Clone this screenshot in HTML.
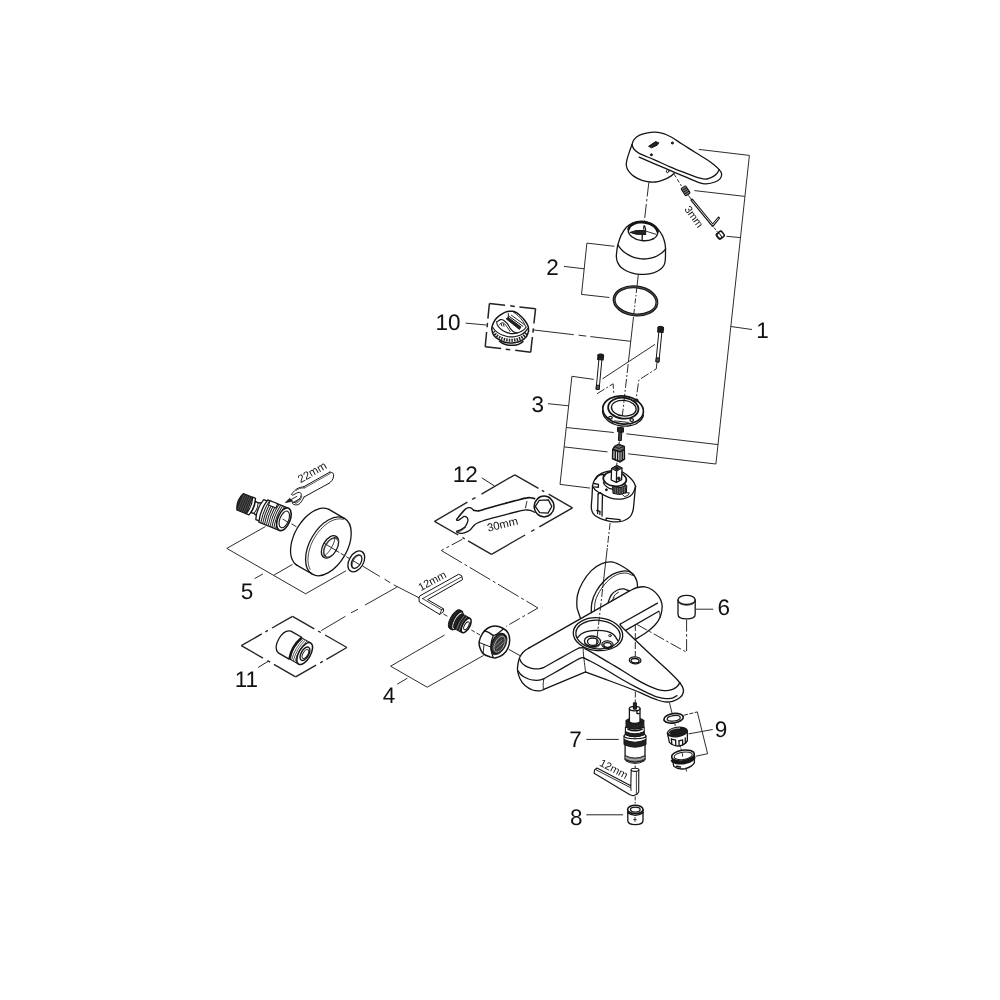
<!DOCTYPE html>
<html lang="en"><head><meta charset="utf-8"><title>Exploded parts diagram</title>
<style>
html,body{margin:0;padding:0;background:#fff}
body{width:1000px;height:1000px;overflow:hidden}
svg{display:block;filter:grayscale(1)}
.o{fill:none;stroke:#151515;stroke-width:1.3;stroke-linecap:round;stroke-linejoin:round}
.w{fill:#fff;stroke:#151515;stroke-width:1.3;stroke-linecap:round;stroke-linejoin:round}
.t{fill:none;stroke:#222;stroke-width:.95;stroke-linecap:butt}
.d{fill:none;stroke:#222;stroke-width:.95;stroke-dasharray:14 2.5 2.5 2.5}
.k{fill:#222;stroke:#151515;stroke-width:1;stroke-linejoin:round}
.g{fill:#777;stroke:#151515;stroke-width:1;stroke-linejoin:round}
.h{fill:none;stroke:#151515;stroke-width:2.3;stroke-linecap:round}
.n{fill:none;stroke:#333;stroke-width:.6}
text{font-family:"Liberation Sans",Arial,sans-serif;fill:#111;text-rendering:geometricPrecision}
</style></head><body>
<svg width="1000" height="1000" viewBox="0 0 1000 1000">
<rect width="1000" height="1000" fill="#fff"/>
<!-- handle -->
<path class="o" d="M632 144.8C632.3 143.9 632.7 141.2 634 139.6C635.3 138 637.3 136.3 639.6 135.2C641.9 134.1 644.9 133.3 647.6 132.8C650.3 132.3 652.9 132.1 655.6 132.2C658.3 132.3 660.9 132.8 663.6 133.6C666.3 134.4 668.5 135.5 671.6 137.2C674.7 138.9 678.1 141.5 682 144C685.9 146.5 690.8 149.5 695 152.2C699.2 154.9 704.2 157.8 707.5 160C710.8 162.2 712.5 163.6 714.5 165.2C716.5 166.8 718 168.2 719.2 169.6C720.4 171 721.4 172.1 721.6 173.6C721.8 175.1 721.5 177 720.4 178.4C719.3 179.8 717.4 181.1 715 182C712.6 182.9 708.5 183.7 706 183.8C703.5 184 703.3 184 700 182.9C696.7 181.8 691 179.3 686 177.2C681 175.1 675.3 172.7 670 170.4C664.7 168.1 659.1 165.8 654 163.6C648.9 161.4 641.7 158.3 639.2 157.2"/>
<path class="o" d="M632 144.8C632.3 145.5 632.7 147.7 634 149.2C635.3 150.7 636.3 151.9 639.6 153.6C642.9 155.3 648.9 157.4 654 159.6C659.1 161.8 664.7 164.5 670 166.8C675.3 169.1 681 171.3 686 173.2C691 175.1 696.5 177.2 700 178.2C703.5 179.2 705 179.2 707 179C709 178.8 710.4 178 712 177.2C713.6 176.4 715.3 175.3 716.5 174C717.7 172.7 718.8 170.3 719.2 169.6"/>
<path class="o" d="M632 144.8C631.5 146.1 630.1 149.8 629.2 152.4C628.3 155 627.3 158.1 626.8 160.4C626.3 162.7 626.1 164.3 626.4 166C626.7 167.7 627.1 169.1 628.4 170.8C629.7 172.5 631.7 174.8 634 176.4C636.3 178 639.3 179.5 642 180.4C644.7 181.3 647.3 181.8 650 182C652.7 182.2 655.3 182.1 658 181.6C660.7 181.1 663.7 179.8 666 178.8C668.3 177.8 670.3 176.5 671.6 175.6C672.9 174.7 673.6 173.6 674 173.2"/>
<path class="k" d="M648.6 146.3L655.6 141.6L658.8 142.8L657.2 145.2L651.6 147.8Z"/>
<ellipse class="k" cx="672.4" cy="143" rx="1.1" ry="1"/>
<ellipse class="k" cx="651.4" cy="154.8" rx="1.1" ry="1"/>
<ellipse class="o" cx="667.6" cy="171.2" rx="1.2" ry="1.7" transform="rotate(20 667.6 171.2)" style="stroke-width:.8"/>
<path class="t" d="M674 174L681.5 186" stroke-dasharray="4 2"/>
<g transform="rotate(57 685.6 190.8)"><rect class="g" x="681.2" y="188" width="8.8" height="5.6" rx="1"/><path class="n" d="M683.5 188v5.6M685.6 188v5.6M687.7 188v5.6" style="stroke:#111;stroke-width:.9"/></g>
<path class="t" d="M688.3 195.3L691.5 199.6"/>
<path class="h" d="M691.9 200L712.7 225.4L718.6 218" style="stroke-width:2.8;stroke-linejoin:round"/>
<path class="h" d="M692.4 200.6L712.7 225.1L718.3 218.3" style="stroke:#ddd;stroke-width:1;stroke-linejoin:round"/>
<text x="691" y="218.8" font-size="10.7" text-anchor="middle" transform="rotate(54 691 218.8)">3mm</text>
<path class="t" d="M714 227.5L717.5 232" stroke-dasharray="3 1.5"/>
<g transform="rotate(-38 720.2 235.2)"><rect class="w" x="716.9" y="232" width="6.8" height="6.4" rx="1.8" style="stroke-width:1.5"/><ellipse class="o" cx="719" cy="235.2" rx="1.6" ry="2.9" style="stroke-width:1"/></g>
<path class="t" d="M698.8 149.4L749.4 155.4L715.9 464"/>
<path class="t" d="M694.4 190.6L744.9 196.4"/>
<path class="t" d="M726.5 236.3L740.5 237.6"/>
<path class="t" d="M730.8 326.5L752 329.5"/>
<text x="762.6" y="338.4" font-size="22.5" text-anchor="middle">1</text>
<path class="d" d="M648.8 182.6L643.4 229.5"/>
<!-- cap -->
<path class="o" d="M616.7 252C616.4 254.2 616.2 255.5 616.4 257.2C616.5 258.9 616.8 260.7 617.6 262.4C618.4 264.1 619.5 266.1 621.2 267.6C622.9 269.1 625.3 270.5 627.7 271.5C630.1 272.5 632.7 273.3 635.5 273.8C638.3 274.3 641.6 274.6 644.6 274.4C647.6 274.2 651.1 273.6 653.7 272.8C656.3 272 658.5 270.9 660.2 269.6C661.9 268.3 663.2 266.6 664.1 265C665 263.4 665.1 262 665.3 259.8C665.5 257.6 665.5 254.6 665.5 252C665.5 249.4 665.6 246.8 665.1 244.2C664.6 241.6 664 239 662.8 236.4C661.5 233.8 659.5 230.8 657.6 228.6C655.7 226.4 653.7 224.6 651.1 223.4C648.5 222.2 645 221.3 642 221.2C639 221.1 635.5 221.8 632.9 222.8C630.3 223.8 628.3 225.2 626.4 227.3C624.5 229.4 622.6 232.3 621.2 235.1C619.8 237.9 618.8 241.4 618 244.2C617.2 247 617 249.8 616.7 252Z"/>
<path class="o" d="M618 244.9C618.4 245.5 619.6 247.4 620.6 248.6C621.6 249.8 622.8 250.9 624 251.9C625.2 252.9 626.6 253.8 628 254.6C629.4 255.4 630.9 256.2 632.4 256.8C633.9 257.4 635.5 257.9 637 258.2C638.5 258.5 640 258.8 641.5 258.9C643 259 644.5 259 646 258.9C647.5 258.8 649.1 258.5 650.6 258.2C652.1 257.9 653.6 257.4 655 256.8C656.4 256.2 657.7 255.5 659 254.7C660.3 253.9 661.5 253.1 662.6 252.2C663.7 251.3 665.2 249.6 665.7 249.1"/>
<ellipse class="o" cx="643" cy="231.3" rx="14.8" ry="9.4" transform="rotate(6.5 643 231.3)" style="stroke-width:1.4"/>
<path class="o" d="M628.6 229.1A14.6 9.2 6.5 0 1 629.2 227.6A14.6 9.2 6.5 0 1 630.2 226.2A14.6 9.2 6.5 0 1 631.6 225A14.6 9.2 6.5 0 1 633.3 224A14.6 9.2 6.5 0 1 635.2 223.2A14.6 9.2 6.5 0 1 637.4 222.6A14.6 9.2 6.5 0 1 639.7 222.3A14.6 9.2 6.5 0 1 642.2 222.2A14.6 9.2 6.5 0 1 644.6 222.4A14.6 9.2 6.5 0 1 647 222.9A14.6 9.2 6.5 0 1 649.3 223.6A14.6 9.2 6.5 0 1 651.5 224.6A14.6 9.2 6.5 0 1 653.3 225.7A14.6 9.2 6.5 0 1 654.9 227A14.6 9.2 6.5 0 1 656.1 228.5A14.6 9.2 6.5 0 1 657 230A14.6 9.2 6.5 0 1 657.5 231.5" style="stroke-width:2.6"/>
<path class="k" d="M630 232.4L636 230.6L645.4 230.4L645.8 234.6L636 234.2Z"/>
<path class="o" d="M642.3 235L642.1 240.4"/>
<path class="t" d="M645.4 231L656.4 234.4"/>
<path class="o" d="M644.6 226L645.6 230"/>
<path class="t" d="M651.4 239.6L652.4 238.6L654.2 239"/>
<path class="t" d="M614.4 246.3L586.9 243.1L581.5 294.4L609.4 297.5"/>
<path class="t" d="M564 266.4L584.2 268.8"/>
<text x="552.6" y="274.6" font-size="22.5" text-anchor="middle">2</text>
<path class="t" d="M638.3 274.6L637 286.5"/>
<path class="t" d="M636.8 288L633.6 316" stroke-dasharray="5 2 1.5 2"/>
<path class="t" d="M633.5 317L628.4 362"/>
<ellipse class="o" cx="635.5" cy="300.9" rx="21.5" ry="14" transform="rotate(6.5 635.5 300.9)" style="stroke-width:3"/>
<ellipse class="o" cx="635.5" cy="300.9" rx="21.5" ry="14" transform="rotate(6.5 635.5 300.9)" style="stroke:#888;stroke-width:.5"/>
<!-- part 10 -->
<path class="t" d="M489.4 303.5L505.1 305.3" style="stroke-width:1.5"/>
<path class="t" d="M510.2 305.8L514.8 306.4" style="stroke-width:1.5"/>
<path class="t" d="M519.4 306.9L535.6 308.7" style="stroke-width:1.5"/>
<path class="t" d="M535.6 308.7L533.9 323.5" style="stroke-width:1.5"/>
<path class="t" d="M533.4 328.3L532.9 332.6" style="stroke-width:1.5"/>
<path class="t" d="M532.4 337L530.7 352.2" style="stroke-width:1.5"/>
<path class="t" d="M530.7 352.2L515.2 350.3" style="stroke-width:1.5"/>
<path class="t" d="M510.2 349.7L505.7 349.2" style="stroke-width:1.5"/>
<path class="t" d="M501.1 348.6L485.2 346.7" style="stroke-width:1.5"/>
<path class="t" d="M485.2 346.7L486.6 332" style="stroke-width:1.5"/>
<path class="t" d="M487.1 327.3L487.5 322.9" style="stroke-width:1.5"/>
<path class="t" d="M487.9 318.6L489.4 303.5" style="stroke-width:1.5"/>
<path class="t" d="M465.6 323.1L486.3 325"/>
<text x="448.1" y="330.4" font-size="22.5" text-anchor="middle">10</text>
<path class="t" d="M533.8 330L573.8 334.7"/>
<path class="t" d="M578.6 335.2L586.2 336.1"/>
<path class="t" d="M590.4 336.6L630.7 341.3"/>
<path class="o" d="M491.7 328.8C491.8 328.3 492 326.8 492.4 325.6C492.8 324.4 493.4 322.7 494.2 321.4C494.9 320.1 495.6 319.1 496.9 317.8C498.2 316.6 500.4 314.9 502.1 313.9C503.8 312.8 505.6 311.9 507.3 311.5C509 311.1 511.1 311.2 512.5 311.3C514 311.4 514.9 311.9 516 312.4C517.1 312.9 517.6 313.3 519 314.5C520.4 315.7 522.7 317.8 524.2 319.7C525.7 321.6 527.4 324.2 528.1 326.2C528.8 328.1 528.4 330.5 528.5 331.4" style="stroke-width:1.5"/>
<path class="o" d="M491.7 328.8C491.9 329.7 492.4 332.7 493 334C493.6 335.3 494.1 335.9 495 336.8C495.9 337.7 497 338.5 498.2 339.2C499.4 339.9 500.7 340.6 502 341.2C503.3 341.8 504.7 342.2 506 342.5C507.3 342.8 508.7 342.9 510 343C511.3 343.1 512.5 343 513.8 342.8C515.1 342.6 516.7 342.4 518 342C519.3 341.6 520.5 341.1 521.6 340.5C522.7 339.9 523.7 339.1 524.6 338.4C525.5 337.6 526.1 337.2 526.8 336C527.4 334.8 528.2 332.2 528.5 331.4" style="stroke-width:1.5"/>
<path class="o" d="M493.4 331.6C493.8 332.1 494.7 333.7 495.6 334.6C496.5 335.5 497.8 336.3 499 337C500.2 337.7 501.4 338.2 502.6 338.7C503.8 339.2 505.1 339.6 506.4 339.8C507.7 340.1 508.9 340.2 510.2 340.2C511.5 340.2 512.7 340.2 514 340C515.3 339.8 516.8 339.6 518 339.2C519.2 338.8 520.3 338.3 521.4 337.7C522.5 337.1 523.5 336.5 524.4 335.6C525.3 334.8 526.4 333.1 526.8 332.6" style="stroke-width:3;stroke-dasharray:1.5 1.1;stroke-linecap:butt;stroke:#222"/>
<path class="o" d="M492.6 327C493 327.6 493.9 329.3 495 330.4C496.1 331.5 497.7 332.6 499 333.4C500.3 334.2 501.7 334.8 503 335.3C504.3 335.8 505.8 336.2 507 336.5C508.2 336.8 509.3 336.9 510.5 336.9C511.7 336.9 513.1 336.9 514.4 336.7C515.7 336.5 517.1 336.2 518.4 335.8C519.7 335.4 520.9 334.8 522 334.2C523.1 333.6 524.1 332.9 525 332C525.9 331.1 527.2 329.2 527.6 328.6" style="stroke-width:1.1"/>
<path class="o" d="M499.5 341.2C500 341.6 501.2 342.8 502.5 343.4C503.8 344 505.7 344.6 507.3 344.9C508.9 345.2 510.5 345.3 512 345.3C513.5 345.3 515.1 345.2 516.4 344.9C517.7 344.6 518.9 344.2 520 343.6C521.1 343.1 522.4 341.9 522.9 341.6" style="stroke-width:1.5"/>
<path class="o" d="M496.6 321.6C496.7 322.2 496.8 323.9 497.4 325C498 326.1 498.9 327.4 500 328.4C501.1 329.4 502.4 330.4 504 331.2C505.6 332 508.1 333 509.9 333.4C511.7 333.8 513.3 333.6 515 333.4C516.7 333.2 518.5 332.6 520 332C521.5 331.4 523 330.4 524 329.6C525 328.8 525.7 327.4 526 327" style="stroke-width:1.1"/>
<path class="o" d="M497.6 321.4C498.1 321.1 499.5 319.8 500.5 319.6C501.5 319.4 502.4 319.5 503.5 320.2C504.6 320.9 506.1 322.2 507.3 323.6C508.5 325 509.5 327.4 510.6 328.8C511.7 330.2 512.9 331.3 514 332C515.1 332.7 516.8 332.8 517.4 333" style="stroke-width:1.1"/>
<path class="o" d="M499.4 324.6C499.8 324.3 501.1 322.9 502 322.8C502.9 322.7 503.7 323 504.6 323.8C505.5 324.6 506.5 326.1 507.4 327.4C508.3 328.7 509.7 330.9 510.2 331.6" style="stroke-width:.9"/>
<path class="k" d="M506.2 318.8L508.2 317.4L521 327L519.4 329.4Z"/>
<path class="o" d="M509.5 316.6L522.8 326.2" style="stroke-width:1"/>
<path class="o" d="M511.4 315.2L524.4 324.6" style="stroke-width:.9"/>
<path class="o" d="M508.3 313.6L508.3 318" style="stroke-width:1"/>
<path class="o" d="M501.2 323.6L501.8 325.8" style="stroke-width:.9"/>
<path class="o" d="M503.4 324L504 326.4" style="stroke-width:.9"/>
<path class="o" d="M513 311.8C513.8 312.4 516.3 314 518 315.6C519.7 317.2 521.7 319.5 523 321.4C524.3 323.3 525.5 326.1 526 327" style="stroke-width:.9"/>
<!-- bolts -->
<path class="w" d="M659.3 327.4L655.9 361.8L658.9 362.2L662.3 327.8Z" style="stroke-width:1"/>
<path class="g" d="M656.3 357.7L655.9 361.8L658.9 362.2L659.4 358Z" style="fill:#555"/>
<path class="k" d="M658.1 327.3L657.7 331.9L663 332.4L663.5 327.9Z" style="stroke-width:1.2"/>
<ellipse class="k" cx="660.8" cy="327.9" rx="2.9" ry="1.5" transform="rotate(6.5 660.8 327.9)"/>
<path class="w" d="M599.3 355.1L596.1 389.3L599.1 389.5L602.3 355.3Z" style="stroke-width:1"/>
<path class="g" d="M596.4 385.1L596.1 389.3L599.1 389.5L599.5 385.4Z" style="fill:#555"/>
<path class="k" d="M598.1 354.9L597.7 359.5L603.1 360L603.5 355.5Z" style="stroke-width:1.2"/>
<ellipse class="k" cx="600.8" cy="355.5" rx="2.9" ry="1.5" transform="rotate(6.5 600.8 355.5)"/>
<path class="t" d="M655 344.4L602.5 378.8"/>
<path class="t" d="M593.8 379.4L571.9 376.3L560 484.4L590 488.1"/>
<path class="t" d="M548 403.7L568.7 405.8"/>
<text x="537.8" y="412.2" font-size="22.5" text-anchor="middle">3</text>
<path class="t" d="M566.3 427.5L613.8 432.5"/>
<path class="t" d="M626.3 433.8L718 444.6"/>
<path class="t" d="M564.1 446.9L607.5 451.9"/>
<path class="t" d="M628.1 453.8L715.9 464"/>
<path class="d" d="M656.9 363L656.3 368.8L638.8 380L636.3 398" style="stroke-dasharray:9 2 2 2"/>
<path class="d" d="M596.9 393.8L613.1 383.8L613.8 394.5" style="stroke-dasharray:9 2 2 2"/>
<path class="d" d="M628.2 364L622.3 416" style="stroke-dasharray:9 2 2 2"/>
<!-- flange -->
<ellipse class="o" cx="623.1" cy="410" rx="20.4" ry="14" transform="rotate(6.5 623.1 410)" style="stroke-width:1.7"/>
<path class="o" d="M643.4 415.5A20.6 14.1 6.5 0 1 642.5 417.8A20.6 14.1 6.5 0 1 641.2 419.8A20.6 14.1 6.5 0 1 639.3 421.6A20.6 14.1 6.5 0 1 637 423.2A20.6 14.1 6.5 0 1 634.4 424.5A20.6 14.1 6.5 0 1 631.4 425.4A20.6 14.1 6.5 0 1 628.2 426A20.6 14.1 6.5 0 1 624.9 426.2A20.6 14.1 6.5 0 1 621.5 426A20.6 14.1 6.5 0 1 618.2 425.4A20.6 14.1 6.5 0 1 615 424.5A20.6 14.1 6.5 0 1 612 423.2A20.6 14.1 6.5 0 1 609.3 421.6A20.6 14.1 6.5 0 1 607 419.8A20.6 14.1 6.5 0 1 605.1 417.7A20.6 14.1 6.5 0 1 603.7 415.5A20.6 14.1 6.5 0 1 602.9 413.2A20.6 14.1 6.5 0 1 602.6 410.9"/>
<ellipse class="o" cx="623.3" cy="408.2" rx="15.2" ry="10.4" transform="rotate(6.5 623.3 408.2)" style="stroke-width:1.8"/>
<ellipse class="o" cx="623.8" cy="408.2" rx="12.4" ry="7.8" transform="rotate(6.5 623.8 408.2)" style="stroke-width:1.3"/>
<ellipse class="o" cx="610.5" cy="417.8" rx="1.8" ry="1.4" style="stroke-width:1.2"/>
<ellipse class="o" cx="631.7" cy="420.1" rx="1.8" ry="1.4" style="stroke-width:1.2"/>
<ellipse class="o" cx="636.2" cy="400.6" rx="1.8" ry="1.4" style="stroke-width:1.2"/>
<path class="o" d="M612 422.6L614.5 420.8L628 422.4L630.5 424.6" style="stroke-width:.9"/>
<!-- screw+adapter -->
<path class="g" d="M618.9 432L618.4 440.4L621.3 440.6L621.8 432Z" style="fill:#444"/>
<path class="k" d="M617.6 427.2L623.6 427.8L623.4 432.2L617.4 431.6Z"/>
<path class="t" d="M619.4 441.5L619 445"/>
<path class="w" d="M614.6 446.4L618.6 444.6L624.2 446.6L624.4 459L620 461.8L612.6 458.8L612.8 449.6Z" style="stroke-width:1.6"/>
<path class="g" d="M614.6 446.4L618.6 444.6L624.2 446.6L624.3 449.4L620 451.8L612.8 449.6Z" style="fill:#666;stroke-width:1"/>
<path class="o" d="M612.8 449.6L620 451.8L624.3 449.4"/>
<path class="o" d="M620 451.8L620 461.8"/>
<path class="o" d="M615.2 450.4L615.2 459.8" style="stroke-width:1.5"/>
<path class="o" d="M617.6 451.1L617.6 460.8" style="stroke-width:1.5"/>
<path class="o" d="M622.2 450.6L622.2 460.4" style="stroke-width:1.5"/>
<path class="o" d="M615.2 447.2L619.2 448.4L623 446.8" style="stroke-width:.9"/>
<path class="t" d="M617 462.6L616.7 465"/>
<!-- cartridge -->
<path class="o" d="M592.5 486C592.4 487.8 592.2 493.4 592 497C591.8 500.6 591.2 504.9 591.3 507.5C591.4 510.1 591.9 511.2 592.5 512.5C593.1 513.8 593.8 514.5 595 515.5C596.2 516.5 598.3 517.5 600 518.3C601.7 519.1 603.2 519.7 605 520.2C606.8 520.8 608.9 521.3 611 521.6C613.1 521.9 615.5 522 617.5 521.9C619.5 521.8 621.3 521.5 623 521C624.7 520.5 626.2 519.7 627.5 518.8C628.8 517.9 630.1 517 631 515.5C631.9 514 632.5 512.9 633.1 510C633.7 507.1 634 501.9 634.4 498C634.8 494.1 635.4 488.2 635.6 486.3"/>
<path class="o" d="M592.5 486C592.8 485.2 593.2 482.6 594 481C594.8 479.4 596.2 477.6 597.5 476.3C598.8 475 600.3 474 602 473.2C603.7 472.4 605.7 471.7 607.5 471.3C609.3 470.9 611.1 470.7 613 470.6C614.9 470.6 617.1 470.6 619 471C620.9 471.4 622.8 472.2 624.5 473.2C626.2 474.2 628 475.8 629.5 477.2C631 478.6 632.4 480.1 633.4 481.6C634.4 483.1 635.2 485.5 635.6 486.3"/>
<path class="o" d="M592.5 486C593.1 486.8 594.1 489 596 490.5C597.9 492 601.5 493.8 603.8 495C606.1 496.2 607.7 497.1 610 497.8C612.3 498.5 615.2 499.1 617.5 499.2C619.8 499.3 621.9 499.1 624 498.6C626.1 498.1 628.4 497.4 630 496.3C631.6 495.2 632.7 493.7 633.6 492C634.5 490.3 635.3 487.2 635.6 486.3"/>
<ellipse class="o" cx="614.8" cy="479" rx="11.6" ry="7.2" transform="rotate(6.5 614.8 479)" style="stroke-width:1.7"/>
<path class="o" d="M625.4 484.7A11.2 7.2 6.5 0 1 624.8 485.8A11.2 7.2 6.5 0 1 624 486.8A11.2 7.2 6.5 0 1 622.8 487.6A11.2 7.2 6.5 0 1 621.5 488.3A11.2 7.2 6.5 0 1 620 488.9A11.2 7.2 6.5 0 1 618.3 489.3A11.2 7.2 6.5 0 1 616.5 489.4A11.2 7.2 6.5 0 1 614.7 489.4A11.2 7.2 6.5 0 1 612.9 489.2A11.2 7.2 6.5 0 1 611.1 488.8A11.2 7.2 6.5 0 1 609.4 488.3A11.2 7.2 6.5 0 1 607.9 487.5A11.2 7.2 6.5 0 1 606.5 486.6A11.2 7.2 6.5 0 1 605.4 485.6A11.2 7.2 6.5 0 1 604.5 484.5A11.2 7.2 6.5 0 1 603.8 483.4A11.2 7.2 6.5 0 1 603.5 482.2"/>
<path class="g" d="M612.5 486.6L613 493.4L620 494.6L626.4 492.6L626.8 485.4L620 487.6Z" style="fill:#666"/>
<path class="n" d="M614 487.5L614.2 493.6" style="stroke:#111;stroke-width:.8"/>
<path class="n" d="M616.3 487.5L616.5 493.6" style="stroke:#111;stroke-width:.8"/>
<path class="n" d="M618.6 487.5L618.8 493.6" style="stroke:#111;stroke-width:.8"/>
<path class="n" d="M620.9 487.5L621.1 493.6" style="stroke:#111;stroke-width:.8"/>
<path class="n" d="M623.2 487.5L623.4 493.6" style="stroke:#111;stroke-width:.8"/>
<path class="n" d="M625.5 487.5L625.7 493.6" style="stroke:#111;stroke-width:.8"/>
<path class="w" d="M611.6 468.6L616.9 465.6L622 468L621.6 479.6L616.4 482.4L611.2 480Z"/>
<path class="g" d="M611.6 468.6L616.9 465.6L622 468L616.6 471.2Z" style="fill:#555"/>
<path class="o" d="M616.6 471.2L616.4 482.4"/>
<ellipse class="k" cx="616.9" cy="468.4" rx="1.4" ry="0.9"/>
<ellipse class="k" cx="618.8" cy="478.4" rx="1.3" ry="1.3"/>
<ellipse class="k" cx="606.4" cy="489.8" rx="1" ry="1"/>
<path class="o" d="M594 483.5L598.5 484.4L598.3 487.4L594.6 486.8"/>
<path class="o" d="M598.1 494L597.6 513.5"/>
<path class="o" d="M602.5 494.6L602 516"/>
<path class="o" d="M598.1 494L600.5 492.6L602.5 494.6"/>
<path class="o" d="M596.8 510.5L600 511.4L599.8 514.4"/>
<path class="o" d="M622.5 494.5L624.4 496.6L627.8 495.6L629.4 492.8L626.4 492.8" style="stroke-width:.9"/>
<path class="o" d="M606 520.4L606.2 518.2L620 519.6L620 521.6"/>
<path class="o" d="M595.5 479C595.9 478.5 596.8 476.6 598 475.8C599.2 475 601.4 474.4 602.5 474.4C603.6 474.4 604.2 475.4 604.6 475.6" style="stroke-width:1.8"/>
<path class="d" d="M610.1 523L607.3 548" style="stroke-dasharray:7 2 2 2"/>
<path class="t" d="M607.3 548L602.7 588"/>
<!-- wall disc -->
<path class="o" d="M580.6 618.6C580.2 617.3 578.6 613 578 611C577.4 609 577 609 576.9 606.3C576.8 603.6 576.6 599 577.5 595C578.4 591 580.2 586.6 582.5 582.5C584.8 578.4 588.2 573.7 591.3 570.6C594.4 567.5 598 565.2 601.3 563.8C604.6 562.3 608.2 561.7 611.3 561.9C614.4 562.1 617.1 563.5 620 565C622.9 566.5 626.5 568.9 628.8 570.6C631.1 572.3 632.4 573.2 633.8 575C635.1 576.8 636.3 579.3 636.9 581.3C637.5 583.3 637.4 586.2 637.5 587.2"/>
<path class="o" d="M591.3 612.6C591.4 610.9 591.1 606 591.9 602.5C592.7 599 594.3 594.8 596.3 591.3C598.3 587.8 601.1 584.1 603.8 581.3C606.5 578.5 609.6 576.1 612.5 574.4C615.4 572.7 618.6 571.8 621.3 571.3C624 570.8 626.7 570.7 628.8 571.3C630.9 571.9 633 574.4 633.8 575"/>
<path class="o" d="M594.4 611C594.6 609.2 594.5 603.7 595.6 600C596.8 596.3 599.1 592.1 601.3 588.8C603.5 585.5 606.1 582.4 608.8 580C611.5 577.6 614.6 575.5 617.5 574.4C620.4 573.2 623.8 572.9 626.3 573.1C628.8 573.3 631.5 575.2 632.5 575.6" style="stroke-width:.9"/>
<path class="o" d="M608.1 602.6C608.6 601.3 609.7 597.1 611.3 595C612.9 592.9 615.4 591 617.5 590C619.6 589 621.9 588.7 623.8 588.8C625.7 588.9 628 590.5 628.8 590.8"/>
<path class="o" d="M613.4 597.6C613.7 597.1 614.5 595.3 615.4 594.4C616.3 593.5 618.1 592.6 618.6 592.2" style="stroke-width:.9"/>
<path class="o" d="M611.5 601L614 597.5" style="stroke-width:.9"/>
<!-- body -->
<path class="o" d="M528.8 648.1L630 590.6"/>
<path class="o" d="M630 590.6C631.2 590.1 635 588.1 637.5 587.5C640 586.9 642.5 586.5 645 586.9C647.5 587.3 650.2 588.4 652.5 590C654.8 591.6 657.2 594 658.8 596.3C660.4 598.6 661.4 601.5 661.9 603.8C662.4 606.1 662.2 607.7 661.9 610C661.6 612.3 661.1 615 660 617.5C658.9 620 657.3 622.5 655 625C652.7 627.5 649.6 630.1 646.3 632.5C643 634.9 636.9 638.4 635 639.6"/>
<path class="o" d="M620.4 624L657.5 603.1"/>
<path class="o" d="M625.6 630.4L658.8 611.3"/>
<path class="o" d="M658.8 611.3C659 611.8 659.8 613 660 614C660.2 615 660 616.9 660 617.5" style="stroke-width:.9"/>
<path class="o" d="M620.4 624C620.5 624.4 618.9 623.7 621.3 626.3C623.7 628.9 629.8 634.8 635 639.8C640.2 644.8 647.1 651.3 652.5 656.3C657.9 661.3 663.3 666 667.5 670C671.7 674 675 677.2 677.5 680C680 682.8 681.5 684.8 682.5 686.9C683.5 689 683.7 690.7 683.3 692.5C682.9 694.3 681.8 696 680 697.5C678.2 699 675 700.6 672.5 701.3C670 702 667.5 702.1 665 701.9C662.5 701.7 660.8 701.2 657.5 700C654.2 698.8 649 696.5 645 694.8C641 693.1 639.6 692.3 633.8 690C628 687.7 617.3 683.7 610 681C602.7 678.3 594.1 675.1 590 673.6C585.9 672.1 586.3 672.2 585.6 671.9"/>
<path class="o" d="M585 648.6C585.8 649.1 587.7 650.1 590 651.4C592.3 652.7 595.5 654.5 599 656.6C602.5 658.7 607 661.4 611 663.8C615 666.2 619 668.5 623 671C627 673.5 631 676.2 635 678.6C639 681 643.8 683.6 647 685.2C650.2 686.8 652 687.4 654 688.2C656 689 657.3 689.4 659 689.8C660.7 690.2 662.4 690.5 664 690.6C665.6 690.7 667.2 690.6 668.6 690.4C670 690.2 671.4 689.9 672.6 689.4C673.8 688.9 674.8 688.3 675.8 687.6C676.8 686.9 677.7 685.9 678.4 685C679.1 684.1 679.7 682.8 680 682.4"/>
<path class="o" d="M583.8 657.8C584.8 658.3 587.5 659.7 590 661C592.5 662.3 595.5 663.8 599 665.8C602.5 667.8 607 670.4 611 672.8C615 675.2 619 677.7 623 680C627 682.3 631 684.5 635 686.6C639 688.7 643.8 691.1 647 692.6C650.2 694.1 652 695 654 695.8C656 696.6 657.3 697 659 697.4C660.7 697.8 662.4 698.2 664 698.4C665.6 698.6 667.1 698.7 668.6 698.6C670.1 698.5 671.6 698.3 673 697.8C674.4 697.3 676.3 696 677 695.6"/>
<path class="o" d="M528.8 648.1C528.1 648.6 525.8 649.9 524.5 651C523.2 652.1 522.2 653.1 521.3 654.6C520.3 656.1 519.4 657.4 518.8 660C518.2 662.6 517.3 666.9 517.5 670C517.7 673.1 518.8 676.2 520 678.8C521.2 681.4 522.9 683.7 525 685.6C527.1 687.5 530 689.1 532.5 690C535 690.9 538.1 690.9 540 690.8C541.9 690.7 543.2 689.6 543.8 689.4"/>
<path class="o" d="M543.8 689.4L585.6 671.9"/>
<path class="o" d="M519.6 658.6C519.9 659.3 520.7 661.4 521.6 662.6C522.5 663.8 523.6 664.7 525 665.6C526.4 666.5 528.3 667.3 530 667.8C531.7 668.3 533.3 668.7 535 668.8C536.7 668.9 538.5 668.8 540 668.6C541.5 668.4 543.2 667.7 543.8 667.5"/>
<path class="o" d="M543.8 667.5C546.5 666 554.4 661.5 560 658.4C565.6 655.3 574.1 650.6 577.5 648.8C580.9 647 579.6 648 580.6 647.8C581.6 647.6 583.1 647.5 583.8 647.6C584.5 647.7 584.8 648 585 648.1"/>
<path class="o" d="M517.8 670.6C518.2 671.2 519.3 673 520.3 674C521.3 675 522.4 676 523.8 676.8C525.2 677.6 526.8 678.4 528.5 679C530.2 679.6 532 680 533.8 680.2C535.5 680.4 537.3 680.4 539 680.2C540.7 680 543 679 543.8 678.8"/>
<path class="o" d="M543.8 678.8C546.5 677.3 554.6 672.7 560 669.6C565.4 666.5 573 662.1 576.3 660.2C579.6 658.3 578.8 658.8 580 658.3C581.2 657.8 583.2 657.6 583.8 657.5"/>
<path class="o" d="M543.8 678.8C543.7 679.7 543.3 682.2 543.2 684C543.1 685.8 543.4 688.5 543.4 689.4" style="stroke-width:.9"/>
<path class="o" d="M583.1 648.1C583.1 648.9 583.3 651.4 583.4 653C583.5 654.6 583.5 655.1 583.8 657.5C584.1 659.9 584.7 665.1 585 667.5C585.3 669.9 585.5 671.2 585.6 671.9" style="stroke-width:.9"/>
<ellipse class="w" cx="598" cy="634.2" rx="24.8" ry="16.4" transform="rotate(5 598 634.2)"/>
<ellipse class="o" cx="598" cy="634.6" rx="22.2" ry="14.3" transform="rotate(5 598 634.6)"/>
<path class="o" d="M577.6 637.6C578.3 637 580 634.8 581.6 633.8C583.2 632.8 584.9 632 587.5 631.4C590.1 630.8 594.2 630.4 597.5 630.4C600.8 630.4 604.3 630.7 607 631.4C609.7 632.1 611.7 633.1 613.5 634.6C615.3 636.1 617.1 639.6 617.8 640.6"/>
<ellipse class="o" cx="592.5" cy="641.3" rx="8.1" ry="5.3" transform="rotate(4 592.5 641.3)"/>
<ellipse class="o" cx="592.8" cy="641.7" rx="5.3" ry="3.7" transform="rotate(4 592.8 641.7)"/>
<path class="o" d="M600 644.7A8.1 5.3 4 0 1 599.3 645.5A8.1 5.3 4 0 1 598.5 646.2A8.1 5.3 4 0 1 597.5 646.8A8.1 5.3 4 0 1 596.4 647.2A8.1 5.3 4 0 1 595.1 647.5A8.1 5.3 4 0 1 593.8 647.7A8.1 5.3 4 0 1 592.5 647.7A8.1 5.3 4 0 1 591.1 647.6A8.1 5.3 4 0 1 589.8 647.3A8.1 5.3 4 0 1 588.5 646.9A8.1 5.3 4 0 1 587.4 646.3A8.1 5.3 4 0 1 586.4 645.7A8.1 5.3 4 0 1 585.6 644.9A8.1 5.3 4 0 1 585 644.1A8.1 5.3 4 0 1 584.6 643.2" style="stroke-width:.9"/>
<ellipse class="o" cx="607.5" cy="644.6" rx="5.6" ry="3.7" transform="rotate(4 607.5 644.6)"/>
<ellipse class="o" cx="607.5" cy="645" rx="3.8" ry="2.3" transform="rotate(4 607.5 645)"/>
<ellipse class="o" cx="610" cy="635.6" rx="1.4" ry="1.1" style="stroke-width:.9"/>
<path class="d" d="M602.6 589L596.8 640" style="stroke-dasharray:8 2 2 2"/>
<path class="t" d="M596.8 640L596.1 646"/>
<ellipse class="o" cx="635.1" cy="660.3" rx="5.8" ry="3.5" transform="rotate(3 635.1 660.3)"/>
<ellipse class="o" cx="635.1" cy="660.7" rx="4" ry="2.2" transform="rotate(3 635.1 660.7)"/>
<path class="o" d="M678 600V614.5Q678 618.8 686.6 618.8Q695.2 618.8 695.2 614.5V600"/>
<ellipse class="o" cx="686.6" cy="599.9" rx="8.6" ry="4.6"/>
<path class="o" d="M694.6 602.2A8.1 3.6 0 0 1 694.2 602.8A8.1 3.6 0 0 1 693.7 603.3A8.1 3.6 0 0 1 693 603.8A8.1 3.6 0 0 1 692.1 604.3A8.1 3.6 0 0 1 691 604.6A8.1 3.6 0 0 1 689.8 604.9A8.1 3.6 0 0 1 688.6 605.1A8.1 3.6 0 0 1 687.3 605.2A8.1 3.6 0 0 1 685.9 605.2A8.1 3.6 0 0 1 684.6 605.1A8.1 3.6 0 0 1 683.4 604.9A8.1 3.6 0 0 1 682.2 604.6A8.1 3.6 0 0 1 681.1 604.3A8.1 3.6 0 0 1 680.2 603.8A8.1 3.6 0 0 1 679.5 603.3A8.1 3.6 0 0 1 679 602.8A8.1 3.6 0 0 1 678.6 602.2" style="stroke-width:.8"/>
<path class="t" d="M696 609.2L713.3 609.2"/>
<text x="723.8" y="614.6" font-size="22.5" text-anchor="middle">6</text>
<path class="d" d="M686.6 619.6L686.6 652.3L635.8 623.8" style="stroke-dasharray:12 2.5 2.5 2.5"/>
<path class="d" d="M635.3 624L635.3 656.6" style="stroke-dasharray:7 2"/>
<path class="d" d="M635.3 691.5L635.3 702.5" style="stroke-dasharray:6 2"/>
<!-- part 7 -->
<path class="w" d="M625.1 744Q635 748.8 645 744L645 759.6Q635 764.4 625.1 759.6Z"/>
<path class="g" d="M625.3 755.6Q635 760.4 644.8 755.6L644.8 759.6Q635 764.4 625.3 759.6Z" style="fill:#777;stroke-width:.8"/>
<path class="o" d="M625.4 757.6Q635 762.6 644.8 757.6" style="stroke-width:.7;stroke:#ddd"/>
<path class="o" d="M626 761Q635 766 644.2 761" style="stroke-width:1"/>
<path class="k" d="M624 739.6Q635 744.8 646 739.6L646 744.6Q635 749.8 624 744.6Z"/>
<path class="w" d="M624 736Q635 741.2 646 736L646 739.6Q635 744.8 624 739.6Z" style="stroke-width:1.1"/>
<ellipse class="w" cx="635" cy="736" rx="11" ry="2.7" style="stroke-width:1.1"/>
<path class="w" d="M625.4 727Q634.8 731.4 644.2 727L644.2 734.6Q634.8 739 625.4 734.6Z" style="stroke-width:1.1"/>
<path class="k" d="M625.4 731.6Q634.8 736 644.2 731.6L644.2 734.6Q634.8 739 625.4 734.6Z"/>
<path class="o" d="M628 729.2Q635 732.4 642 729.2" style="stroke-width:1.6"/>
<path class="k" d="M626 720.6Q635 725 643.9 720.6L643.9 726.6Q635 731 626 726.6Z"/>
<ellipse class="k" cx="635" cy="720.6" rx="8.9" ry="2.4"/>
<path class="w" d="M629.4 708.6V722.2Q634.8 724.8 640 722.2V708.6"/>
<ellipse class="w" cx="634.7" cy="708.6" rx="5.3" ry="2.2"/>
<path class="k" d="M633.4 702.8L636.4 702.8L636.4 709.2L633.4 709.2Z"/>
<path class="o" d="M637 710.6L637 713.6L639.4 713.6" style="stroke-width:1.4"/>
<path class="t" d="M586.3 739.4L618.8 739.4" style="stroke-width:1"/>
<text x="575.6" y="747.3" font-size="22.5" text-anchor="middle">7</text>
<!-- 12mm key bottom -->
<path class="w" d="M597 768L630.8 785.7L631.2 770.6L638.8 770L638.7 792L637 794.2L633.1 795.8L629.9 794.7L594.1 773.2L594.6 770Z" style="stroke-width:1.1"/>
<path class="o" d="M596 769.8L630.8 787.8" style="stroke-width:.9"/>
<path class="o" d="M630.8 785.7L631 790.6" style="stroke-width:.9"/>
<path class="o" d="M636.4 771.4L636.4 793.6" style="stroke-width:.8"/>
<ellipse class="w" cx="635" cy="769.8" rx="3.9" ry="1.6" style="stroke-width:1.1"/>
<text x="612.1" y="772.2" font-size="10.8" text-anchor="middle" transform="rotate(27.4 612.1 772.2)">12mm</text>
<path class="t" d="M635.2 765.5L635.2 768"/>
<path class="d" d="M635.2 796.4L635.2 803.5" style="stroke-dasharray:4 1.5"/>
<!-- part 8 -->
<path class="w" d="M627.8 809.6V820.6Q628 824.6 635.3 824.6Q642.8 824.6 643 820.6V809.6"/>
<path class="o" d="M627.6 812.6Q635.3 818 643.2 812.6"/>
<ellipse class="w" cx="635.3" cy="809.5" rx="7.7" ry="4.3" style="stroke-width:1.6"/>
<ellipse class="o" cx="635.3" cy="809.6" rx="4.8" ry="2.5"/>
<path class="o" d="M635 817.6L635 821.4" style="stroke-width:.9"/>
<path class="o" d="M633.6 819.6L636.4 819.6" style="stroke-width:.8"/>
<path class="t" d="M586.3 814.8L623.1 814.8" style="stroke-width:1"/>
<text x="576.3" y="825.2" font-size="22.5" text-anchor="middle">8</text>
<!-- part 9 -->
<path class="t" d="M669.4 702.5L672 713"/>
<path class="t" d="M674.8 724L675.8 728" style="stroke-dasharray:2 1"/>
<path class="t" d="M680.1 745.5L681.3 750" style="stroke-dasharray:2 1"/>
<path class="t" d="M685.7 767.8L686.6 771.4"/>
<ellipse class="w" cx="673.6" cy="718.2" rx="9.8" ry="4.7" transform="rotate(-8 673.6 718.2)" style="stroke-width:1.7"/>
<ellipse class="o" cx="673.7" cy="718.3" rx="6.6" ry="2.7" transform="rotate(-8 673.7 718.3)" style="stroke-width:1.2"/>
<path class="w" d="M667.4 732.8L669.4 742.4Q673.6 746.6 679.6 745.9Q685.4 744.6 687.4 740.6L687.3 730.8"/>
<ellipse class="k" cx="677.3" cy="732" rx="10" ry="4.6" transform="rotate(-8 677.3 732)" style="fill:#1c1c1c;stroke-width:1.3"/>
<path class="o" d="M669.9 734.1A8.6 3.2 -8 0 1 669.3 733.7A8.6 3.2 -8 0 1 668.8 733.3A8.6 3.2 -8 0 1 668.6 732.8A8.6 3.2 -8 0 1 668.6 732.3A8.6 3.2 -8 0 1 668.8 731.7A8.6 3.2 -8 0 1 669.3 731.2A8.6 3.2 -8 0 1 669.9 730.6A8.6 3.2 -8 0 1 670.7 730.1A8.6 3.2 -8 0 1 671.7 729.6A8.6 3.2 -8 0 1 672.9 729.2A8.6 3.2 -8 0 1 674.1 728.8A8.6 3.2 -8 0 1 675.5 728.5A8.6 3.2 -8 0 1 676.9 728.3A8.6 3.2 -8 0 1 678.2 728.2A8.6 3.2 -8 0 1 679.6 728.1" style="stroke-width:.8;stroke:#eee"/>
<path class="o" d="M671.4 739L671.8 743.9"/>
<path class="o" d="M671.4 739L675.6 740.2"/>
<path class="o" d="M675.6 740.2L675.8 745.7"/>
<path class="o" d="M679 740.8L679.1 746"/>
<path class="o" d="M679 740.8L682.6 739.8L682.7 745"/>
<path class="o" d="M685.2 738L685.4 743"/>
<path class="w" d="M671.8 757L673.8 766.2Q678 769.8 684.6 768.8Q692 767 694.4 762.6L694.4 754"/>
<path class="o" d="M694.1 757A11.3 5.2 -8 0 1 693.7 757.9A11.3 5.2 -8 0 1 693 758.8A11.3 5.2 -8 0 1 692 759.6A11.3 5.2 -8 0 1 690.8 760.4A11.3 5.2 -8 0 1 689.4 761.1A11.3 5.2 -8 0 1 687.8 761.7A11.3 5.2 -8 0 1 686.1 762.2A11.3 5.2 -8 0 1 684.3 762.6A11.3 5.2 -8 0 1 682.4 762.8A11.3 5.2 -8 0 1 680.6 762.9A11.3 5.2 -8 0 1 678.8 762.8A11.3 5.2 -8 0 1 677.2 762.6A11.3 5.2 -8 0 1 675.7 762.3A11.3 5.2 -8 0 1 674.4 761.8A11.3 5.2 -8 0 1 673.3 761.2A11.3 5.2 -8 0 1 672.5 760.5A11.3 5.2 -8 0 1 672 759.8" style="stroke-width:3.4;stroke-linecap:butt"/>
<ellipse class="w" cx="683" cy="755.4" rx="11.4" ry="5.3" transform="rotate(-8 683 755.4)" style="stroke-width:1.5"/>
<ellipse class="o" cx="683.2" cy="755.8" rx="9.2" ry="3.7" transform="rotate(-8 683.2 755.8)" style="stroke-width:1"/>
<path class="o" d="M682.4 753.6L682.6 756.2" style="stroke-width:.9"/>
<path class="o" d="M676.8 766.4L680.4 767" style="stroke-width:1.6"/>
<path class="d" d="M684 715.2L697.3 711.9" style="stroke-dasharray:4 1.5"/>
<path class="t" d="M697.3 711.9L707.6 753.7L695.6 756.3"/>
<path class="t" d="M688.5 733.9L712.7 729.5"/>
<text x="721" y="737" font-size="22.5" text-anchor="middle">9</text>
<!-- left axis -->
<!-- escutcheon 5 -->
<path class="o" d="M296.7 565.1A18.7 32.2 30 0 1 294.3 563A18.7 32.2 30 0 1 292.5 560.1A18.7 32.2 30 0 1 291.2 556.6A18.7 32.2 30 0 1 290.6 552.5A18.7 32.2 30 0 1 290.7 547.9A18.7 32.2 30 0 1 291.4 543.1A18.7 32.2 30 0 1 292.8 538.1A18.7 32.2 30 0 1 294.7 533.1A18.7 32.2 30 0 1 297.2 528.2A18.7 32.2 30 0 1 300.2 523.7A18.7 32.2 30 0 1 303.5 519.5A18.7 32.2 30 0 1 307.2 515.8A18.7 32.2 30 0 1 311 512.8A18.7 32.2 30 0 1 314.9 510.4A18.7 32.2 30 0 1 318.7 508.9A18.7 32.2 30 0 1 322.4 508.2A18.7 32.2 30 0 1 325.9 508.4A18.7 32.2 30 0 1 328.9 509.4"/>
<path class="o" d="M328.9 509.4L343.9 518.1"/>
<path class="o" d="M296.7 565.1L311.7 573.8"/>
<ellipse class="o" cx="328.4" cy="546.3" rx="18.7" ry="32.2" transform="rotate(30 328.4 546.3)"/>
<path class="o" d="M310.1 569.3A18.1 31 30 0 1 308.8 566.1A18.1 31 30 0 1 308.1 562.4A18.1 31 30 0 1 308 558.2A18.1 31 30 0 1 308.5 553.8A18.1 31 30 0 1 309.6 549.1A18.1 31 30 0 1 311.2 544.4A18.1 31 30 0 1 313.4 539.8A18.1 31 30 0 1 316 535.4A18.1 31 30 0 1 319 531.3A18.1 31 30 0 1 322.3 527.7A18.1 31 30 0 1 325.9 524.5A18.1 31 30 0 1 329.5 522A18.1 31 30 0 1 333.1 520.2A18.1 31 30 0 1 336.7 519.2A18.1 31 30 0 1 340.1 518.9A18.1 31 30 0 1 343.2 519.4" style="stroke-width:.8"/>
<ellipse class="o" cx="330" cy="546.9" rx="7.1" ry="12.2" transform="rotate(30 330 546.9)" style="stroke-width:1.3"/>
<path class="o" d="M329.2 557.1A6 10.6 30 0 1 328 557.2A6 10.6 30 0 1 327 557.2A6 10.6 30 0 1 326 556.8A6 10.6 30 0 1 325.2 556.2A6 10.6 30 0 1 324.6 555.4A6 10.6 30 0 1 324.1 554.3A6 10.6 30 0 1 323.8 553.1A6 10.6 30 0 1 323.8 551.7A6 10.6 30 0 1 323.9 550.2A6 10.6 30 0 1 324.3 548.6A6 10.6 30 0 1 324.8 547A6 10.6 30 0 1 325.6 545.4A6 10.6 30 0 1 326.5 543.8A6 10.6 30 0 1 327.5 542.4A6 10.6 30 0 1 328.6 541.1A6 10.6 30 0 1 329.8 540A6 10.6 30 0 1 331 539.1A6 10.6 30 0 1 332.3 538.5A6 10.6 30 0 1 333.5 538.1A6 10.6 30 0 1 334.6 537.9A6 10.6 30 0 1 335.7 538.1A6 10.6 30 0 1 336.6 538.5A6 10.6 30 0 1 337.4 539.1A6 10.6 30 0 1 338 540A6 10.6 30 0 1 338.4 541.1" style="stroke-width:1.6;stroke:#444"/>
<path class="o" d="M334.5 537.1A3.2 11 30 0 1 334.7 537.7A3.2 11 30 0 1 334.8 538.6A3.2 11 30 0 1 334.6 539.7A3.2 11 30 0 1 334.4 541A3.2 11 30 0 1 333.9 542.4A3.2 11 30 0 1 333.3 543.9A3.2 11 30 0 1 332.6 545.4A3.2 11 30 0 1 331.8 547A3.2 11 30 0 1 330.9 548.6A3.2 11 30 0 1 329.9 550.1A3.2 11 30 0 1 328.9 551.5A3.2 11 30 0 1 327.9 552.7A3.2 11 30 0 1 326.9 553.8A3.2 11 30 0 1 326 554.7A3.2 11 30 0 1 325.1 555.3A3.2 11 30 0 1 324.3 555.7A3.2 11 30 0 1 323.7 555.9" style="stroke-width:.9"/>
<path class="t" d="M324 543.2L337 551"/>
<ellipse class="w" cx="356.3" cy="561.4" rx="7.2" ry="11.3" transform="rotate(30 356.3 561.4)" style="stroke-width:1.3"/>
<ellipse class="o" cx="356.6" cy="561.6" rx="4.4" ry="7.4" transform="rotate(30 356.6 561.6)" style="stroke-width:1.3"/>
<path class="o" d="M354.5 568.5A4.2 7.2 30 0 1 353.8 568.3A4.2 7.2 30 0 1 353.3 567.8A4.2 7.2 30 0 1 352.8 567.2A4.2 7.2 30 0 1 352.5 566.5A4.2 7.2 30 0 1 352.3 565.7A4.2 7.2 30 0 1 352.3 564.7A4.2 7.2 30 0 1 352.4 563.7A4.2 7.2 30 0 1 352.6 562.6A4.2 7.2 30 0 1 353 561.5A4.2 7.2 30 0 1 353.5 560.4A4.2 7.2 30 0 1 354.1 559.4A4.2 7.2 30 0 1 354.8 558.4A4.2 7.2 30 0 1 355.5 557.6A4.2 7.2 30 0 1 356.3 556.8A4.2 7.2 30 0 1 357.2 556.2A4.2 7.2 30 0 1 358 555.8A4.2 7.2 30 0 1 358.9 555.5A4.2 7.2 30 0 1 359.7 555.4A4.2 7.2 30 0 1 360.4 555.5A4.2 7.2 30 0 1 361 555.8A4.2 7.2 30 0 1 361.6 556.2" style="stroke-width:.8"/>
<path class="t" d="M291.5 523.8L296.5 526.8"/>
<path class="t" d="M335 549.9L350 558.9" style="stroke-dasharray:5 1.6"/>
<path class="t" d="M352.5 560.4L360 564.9"/>
<path class="t" d="M362.5 566L379.7 576.4"/>
<path class="t" d="M384.6 579.2L390.2 582.7"/>
<path class="t" d="M393.7 584.8L419.6 598.1"/>
<path class="t" d="M397.2 586.9L365 605.1"/>
<path class="t" d="M358 609.3L351 612.8"/>
<path class="t" d="M345.4 616.3L321.3 630.6"/>
<path class="t" d="M265.4 526.6L226.8 548.4L305.6 593.8L346 570.8"/>
<path class="t" d="M292.5 564.4L273.8 575.2"/>
<path class="t" d="M263 573.9L254.6 578.6"/>
<text x="246.9" y="599" font-size="22.5" text-anchor="middle">5</text>
<!-- s-union -->
<g transform="rotate(21.8 262 510.5)">
<path class="k" d="M238.4 501.6H248.4V519.4H238.4Q234 510.5 238.4 501.6Z"/>
<path d="M239.4 502.2V518.8" stroke="#777" stroke-width=".5" fill="none"/>
<path d="M241.4 502.2V518.8" stroke="#777" stroke-width=".5" fill="none"/>
<path d="M243.4 502.2V518.8" stroke="#777" stroke-width=".5" fill="none"/>
<path d="M245.4 502.2V518.8" stroke="#777" stroke-width=".5" fill="none"/>
<path d="M247.4 502.2V518.8" stroke="#777" stroke-width=".5" fill="none"/>
<path class="w" d="M248.4 501.6H251.5Q254.6 510.5 251.5 519.4H248.4Q251.4 510.5 248.4 501.6Z"/>
<path class="w" d="M252.4 504.4Q255.6 505.6 259.6 503.2V517.8Q255.6 515.4 252.4 516.6Q254 510.5 252.4 504.4Z"/>
<path class="o" d="M255.6 505Q257.6 510.5 255.6 516" style="stroke-width:.9"/>
<path class="w" d="M259.6 499.8H263.4V521.2H259.6Q256 510.5 259.6 499.8Z"/>
<path class="w" d="M263.4 498.5H285.4V522.5H263.4Q260 510.5 263.4 498.5Z"/>
<path d="M265.4 498.9Q263 510.5 265.4 522.1" stroke="#222" stroke-width="1.05" fill="none"/>
<path d="M267.4 498.9Q265 510.5 267.4 522.1" stroke="#222" stroke-width="1.05" fill="none"/>
<path d="M269.4 498.9Q267 510.5 269.4 522.1" stroke="#222" stroke-width="1.05" fill="none"/>
<path d="M271.4 498.9Q269 510.5 271.4 522.1" stroke="#222" stroke-width="1.05" fill="none"/>
<path d="M273.4 498.9Q271 510.5 273.4 522.1" stroke="#222" stroke-width="1.05" fill="none"/>
<path d="M275.4 498.9Q273 510.5 275.4 522.1" stroke="#222" stroke-width="1.05" fill="none"/>
<path d="M277.4 498.9Q275 510.5 277.4 522.1" stroke="#222" stroke-width="1.05" fill="none"/>
<path d="M279.4 498.9Q277 510.5 279.4 522.1" stroke="#222" stroke-width="1.05" fill="none"/>
<path d="M281.4 498.9Q279 510.5 281.4 522.1" stroke="#222" stroke-width="1.05" fill="none"/>
<path class="w" d="M266 498.5H274V503H266Z" style="stroke-width:1"/>
<ellipse class="w" cx="285.6" cy="510.5" rx="6.2" ry="12" style="stroke-width:1.6"/>
<ellipse class="o" cx="286" cy="510.5" rx="4.4" ry="8.8" style="stroke-width:1.1"/>
</g>
<path class="t" d="M282.6 519L288.6 522.6"/>
<!-- wrench 22 -->
<path class="o" d="M303.7 486.8C303.1 486.9 301.5 487 300.4 487.4C299.2 487.8 298 488.1 296.8 488.9C295.6 489.7 294.1 491.3 293.2 492.2C292.3 493.1 291.8 493.8 291.7 494.3C291.6 494.8 291.8 495.2 292.3 495.2C292.9 495.1 294.1 494.4 295 494C295.9 493.6 297.1 492.7 298 492.5C298.9 492.3 299.8 492.4 300.4 492.8C300.9 493.2 301.3 493.8 301.3 494.6C301.3 495.4 300.9 496.6 300.4 497.6C299.8 498.6 298.9 499.8 298 500.6C297.1 501.4 296 502 295 502.4C294 502.8 292.2 502.3 292 502.7C291.8 503.1 292.9 504.1 293.8 504.5C294.7 504.9 296.3 505.1 297.4 504.8C298.5 504.6 299.5 503.9 300.4 503C301.3 502.1 302.2 500.4 302.8 499.4C303.4 498.4 303.8 497.4 304 497" style="stroke-width:1"/>
<path class="o" d="M303.7 486.8L329.8 472.1" style="stroke-width:1"/>
<path class="o" d="M329.8 472.1C330.3 472.2 332.2 472.4 332.8 473C333.4 473.6 333.8 474.8 333.7 476C333.6 477.2 332.9 479 332.2 480.2C331.4 481.4 329.7 482.7 329.2 483.2" style="stroke-width:1"/>
<path class="o" d="M329.2 483.2L304 497" style="stroke-width:1"/>
<path class="o" d="M304.6 487.9L330.4 473.4" style="stroke-width:.7"/>
<path class="o" d="M296.4 490.4C296.9 490.1 298.3 489 299.4 488.6C300.5 488.2 302.1 488.1 303 488C303.9 487.9 304.3 487.9 304.6 487.9" style="stroke-width:.7"/>
<path class="o" d="M301.8 496.2C301.6 496.7 301.2 498.4 300.6 499.4C300 500.4 299.2 501.3 298.4 502C297.6 502.7 296.1 503.2 295.6 503.4" style="stroke-width:.7"/>
<text x="314" y="475.5" font-size="11.2" text-anchor="middle" transform="rotate(-29.8 314 475.5)">22mm</text>
<path class="k" d="M285.1 502.7L289.6 498.2L292.9 501.2Z" style="stroke-width:.6"/>
<path class="o" d="M291 499.6L296.8 496.4" style="stroke-width:.9"/>
<path class="o" d="M293.2 502.4L299.8 498.8" style="stroke-width:.9"/>
<!-- part 11 -->
<path class="t" d="M292.5 616.3L314.3 628.8" style="stroke-width:1.35"/>
<path class="t" d="M318.1 631L320.8 632.5" style="stroke-width:1.35"/>
<path class="t" d="M325.1 635L346.9 647.5" style="stroke-width:1.35"/>
<path class="t" d="M346.9 647.5L326.4 659.3" style="stroke-width:1.35"/>
<path class="t" d="M322.8 661.3L320.2 662.8" style="stroke-width:1.35"/>
<path class="t" d="M316.1 665.1L295.6 676.9" style="stroke-width:1.35"/>
<path class="t" d="M295.6 676.9L273.9 664.4" style="stroke-width:1.35"/>
<path class="t" d="M270.1 662.2L267.4 660.6" style="stroke-width:1.35"/>
<path class="t" d="M263 658.1L241.3 645.6" style="stroke-width:1.35"/>
<path class="t" d="M241.3 645.6L261.8 633.9" style="stroke-width:1.35"/>
<path class="t" d="M265.4 631.8L267.9 630.4" style="stroke-width:1.35"/>
<path class="t" d="M272 628L292.5 616.3" style="stroke-width:1.35"/>
<path class="t" d="M268.1 661.3L258.1 667.5" style="stroke-width:1"/>
<text x="246.4" y="687.2" font-size="22.5" text-anchor="middle">11</text>
<g transform="rotate(30 295 648)">
<path class="w" d="M283 635.4H295.4V660.6H283Q276.4 658.6 276.4 648Q276.4 637.4 283 635.4Z"/>
<path class="w" d="M295.4 635.8H306V660.2H295.4Q291.4 648 295.4 635.8Z" style="stroke-width:1"/>
<path d="M298 636Q294.8 648 298 660" stroke="#333" stroke-width=".75" fill="none"/>
<path d="M299.9 636Q296.7 648 299.9 660" stroke="#333" stroke-width=".75" fill="none"/>
<path d="M301.8 636Q298.6 648 301.8 660" stroke="#333" stroke-width=".75" fill="none"/>
<path d="M303.7 636Q300.5 648 303.7 660" stroke="#333" stroke-width=".75" fill="none"/>
<path d="M305.6 636Q302.4 648 305.6 660" stroke="#333" stroke-width=".75" fill="none"/>
<path d="M295.6 636Q291.2 648 295.6 660" stroke="#151515" stroke-width="2.6" fill="none"/>
<ellipse class="w" cx="306.2" cy="648" rx="5.8" ry="12.2" style="stroke-width:1.5"/>
<ellipse class="o" cx="306.5" cy="648" rx="3.8" ry="7.4" style="stroke-width:1.4"/>
<ellipse class="o" cx="307" cy="648" rx="2.4" ry="5" style="stroke-width:.9"/>
</g>
<!-- 12mm key left -->
<path class="w" d="M420 595.8L458.6 574.3L461.6 575.6L462.6 579.6L427.6 599.6L443.4 608.8L443.6 611.6L439.6 614.4L419.3 602L419 598.4Z" style="stroke-width:1"/>
<path class="o" d="M422.6 598.6L461.6 576.8" style="stroke-width:.8"/>
<path class="o" d="M422.6 598.6L441.6 609.8" style="stroke-width:.8"/>
<path class="o" d="M441.6 609.8L443.4 608.8" style="stroke-width:.8"/>
<path class="o" d="M441.6 609.8L439.6 614.4" style="stroke-width:.8"/>
<text x="434" y="584.1" font-size="10.8" text-anchor="middle" transform="rotate(-28.4 434 584.1)">12mm</text>
<path class="t" d="M443.4 614L447.4 616.2"/>
<!-- check valve -->
<g transform="translate(1.4 0.6) rotate(29 458 621) translate(458 621) scale(.89) translate(-458 -621)">
<ellipse class="k" cx="452.2" cy="621.2" rx="5" ry="12"/>
<path class="k" d="M452.2 609.2H455.8V633.2H452.2Z"/>
<ellipse class="w" cx="455.8" cy="621.2" rx="4.4" ry="11" style="stroke-width:1.2"/>
<ellipse class="k" cx="457" cy="621.2" rx="3.6" ry="9.4"/>
<path class="k" d="M457 611.8H466.4V630.6H457Z"/>
<path d="M459.6 612.2Q457.2 621.2 459.6 630.2M462.6 612.2Q460.2 621.2 462.6 630.2" stroke="#aaa" stroke-width=".6" fill="none"/>
<ellipse class="w" cx="466.8" cy="621.2" rx="4" ry="9" style="stroke-width:1.8"/>
<ellipse class="o" cx="467.2" cy="621.2" rx="2.2" ry="5" style="stroke-width:1.1"/>
</g>
<path class="t" d="M471.3 630L480 635" style="stroke-dasharray:4 2"/>
<!-- nut -->
<path class="w" d="M479.2 641.6C478.8 644 479.3 646 480 648C480.7 650 481.6 652.1 483.2 653.6C484.8 655.1 487.5 656.1 489.6 656.8C491.7 657.5 493.7 658.2 496 657.8C498.3 657.4 501.2 656 503.2 654.4C505.2 652.8 506.9 650.4 508 648C509.1 645.6 509.7 642.5 509.7 640C509.7 637.5 509.2 634.8 508 632.8C506.8 630.8 504.5 629.1 502.4 628C500.3 626.9 497.6 626 495.2 626C492.8 626 490.1 626.7 488 628C485.9 629.3 483.9 631.3 482.4 633.6C480.9 635.9 479.6 639.2 479.2 641.6Z" style="stroke-width:1.5"/>
<path class="o" d="M484.4 630.8C485.2 631.1 487.5 631.8 489 632.6C490.5 633.4 492.1 635.2 493.4 635.4C494.7 635.6 495.4 635 497 634C498.6 633 502 630 503 629.2"/>
<path class="o" d="M493.4 635.4C493.1 636.3 492 639.1 491.6 641C491.2 642.9 491 644.8 491 646.6C491 648.4 491.3 650.3 491.6 652C491.9 653.7 492.8 656.2 493 657"/>
<path class="o" d="M479.6 642.6L484 644.4L491.2 647.2" style="stroke-width:1"/>
<path class="o" d="M484 644.4L483.2 652.8" style="stroke-width:.9"/>
<ellipse class="k" cx="498.6" cy="643.6" rx="6.4" ry="10.8" transform="rotate(27 498.6 643.6)" style="fill:#3a3a3a;stroke-width:1.5"/>
<ellipse class="o" cx="499.6" cy="644.2" rx="4.6" ry="8.6" transform="rotate(27 499.6 644.2)" style="stroke:#ddd;stroke-width:.6"/>
<path class="o" d="M495.4 646L502 640" style="stroke:#ccc;stroke-width:.5"/>
<path class="o" d="M496.4 649L503.4 642.6" style="stroke:#ccc;stroke-width:.5"/>
<path class="o" d="M506.3 635.9A7.6 12 27 0 1 506.7 637.3A7.6 12 27 0 1 506.9 639A7.6 12 27 0 1 506.8 640.7A7.6 12 27 0 1 506.5 642.5A7.6 12 27 0 1 506 644.4A7.6 12 27 0 1 505.3 646.2A7.6 12 27 0 1 504.4 647.9A7.6 12 27 0 1 503.3 649.5A7.6 12 27 0 1 502.1 651A7.6 12 27 0 1 500.8 652.3A7.6 12 27 0 1 499.4 653.3A7.6 12 27 0 1 497.9 654A7.6 12 27 0 1 496.5 654.5A7.6 12 27 0 1 495.1 654.6A7.6 12 27 0 1 493.9 654.5A7.6 12 27 0 1 492.7 654.1A7.6 12 27 0 1 491.7 653.3" style="stroke-width:1"/>
<path class="t" d="M508.8 649.4L520 655.6"/>
<path class="t" d="M444.6 635L390.6 666.2L427.2 687.2L483.6 655.4"/>
<path class="t" d="M407.4 678.2L397.2 684.2"/>
<text x="389" y="703.4" font-size="22.5" text-anchor="middle">4</text>
<!-- box 12 -->
<path class="t" d="M514.8 474.8L538.5 488.3" style="stroke-width:1.35"/>
<path class="t" d="M541.9 490.3L544.2 491.6" style="stroke-width:1.35"/>
<path class="t" d="M548.6 494.1L572.5 507.8" style="stroke-width:1.35"/>
<path class="t" d="M572.5 507.8L539.3 526.9" style="stroke-width:1.35"/>
<path class="t" d="M534.4 529.7L531.2 531.5" style="stroke-width:1.35"/>
<path class="t" d="M525.1 535L491.5 554.3" style="stroke-width:1.35"/>
<path class="t" d="M491.5 554.3L468.1 540.8" style="stroke-width:1.35"/>
<path class="t" d="M464.7 538.8L462.4 537.5" style="stroke-width:1.35"/>
<path class="t" d="M458.2 535L434.5 521.3" style="stroke-width:1.35"/>
<path class="t" d="M434.5 521.3L467.4 502.2" style="stroke-width:1.35"/>
<path class="t" d="M472.2 499.4L475.5 497.6" style="stroke-width:1.35"/>
<path class="t" d="M481.5 494.1L514.8 474.8" style="stroke-width:1.35"/>
<path class="t" d="M481.8 477.8L494.5 486" style="stroke-width:1"/>
<text x="465.2" y="482" font-size="22.5" text-anchor="middle">12</text>
<path class="d" d="M462.3 539.3L441.3 550.5" style="stroke-dasharray:12 3 3 3"/>
<path class="d" d="M441.3 550.5L538 608" style="stroke-dasharray:24 3 3 3"/>
<path class="d" d="M538 608L506 626.4" style="stroke-dasharray:12 3 3 3"/>
<path class="o" d="M473.7 510.4C474.5 510.5 476.6 511.2 478.6 510.9C480.7 510.6 483.4 509.5 486 508.8C488.6 508.1 490.8 507.4 494 506.5C497.2 505.6 501.3 504.4 505 503.4C508.7 502.4 512.3 501.4 516 500.5C519.7 499.6 524.5 498.3 527 497.9C529.5 497.4 529.7 497.7 531 497.8C532.3 497.9 534 498.5 534.6 498.6" style="stroke-width:1.6"/>
<path class="o" d="M473.7 510.4C473.4 510.1 472.4 509.1 471.8 508.6C471.2 508.1 470.5 507.7 469.8 507.6C469.1 507.5 468.1 507.6 467.4 507.9C466.7 508.2 466.5 508.2 465.4 509.3C464.2 510.4 462 513.1 460.5 514.8C459 516.5 457 518.8 456.6 519.7C456.2 520.6 457.5 520.5 458.3 520.3C459.1 520 460.4 518.9 461.4 518.2C462.4 517.6 463.4 516.5 464.3 516.4C465.2 516.3 466.4 517 467 517.5C467.6 518 467.8 518.9 467.9 519.6C468 520.3 468 520.8 467.6 521.9C467.2 523 466.5 525 465.4 526.3C464.3 527.6 462.5 528.8 461 529.6C459.5 530.4 457.1 530.8 456.6 531.3C456.2 531.8 457.5 532.6 458.3 532.9C459.1 533.2 460.4 533.3 461.4 533.3C462.4 533.3 462.9 533.4 464.3 532.9C465.7 532.4 468.2 531.4 469.8 530.2C471.4 529 472.4 527 473.7 525.8C475 524.6 475 524.1 477.5 523C480 521.9 483.9 520.6 488.5 519.2C493.1 517.8 499.3 516.3 505 514.8C510.7 513.3 518.9 511.2 522.6 510.4C526.3 509.6 525.7 510 527 510C528.3 510 529 510 530.3 510.4C531.6 510.8 534.2 512.1 535 512.4"/>
<path class="o" d="M456.9 519.2C457.5 518.3 459.2 515.4 460.6 513.6C462 511.8 464.4 509.4 465.2 508.6" style="stroke-width:.8"/>
<path class="o" d="M457.6 531.9C458.2 531.7 460.1 531.4 461.4 530.6C462.7 529.9 464.9 527.9 465.6 527.4" style="stroke-width:.8"/>
<ellipse class="o" cx="544.1" cy="506.5" rx="9.9" ry="10.4" style="stroke-width:1.5"/>
<path class="o" d="M539.2 500.4L548.4 499.9L551.8 506.5L548 513.1L539.7 512.6L535.3 506.5Z"/>
<path class="t" d="M527 501L525.4 508.2"/>
<text x="503.4" y="528" font-size="11.3" text-anchor="middle" transform="rotate(-13.6 503.4 528)">30mm</text>
</svg>
</body></html>
